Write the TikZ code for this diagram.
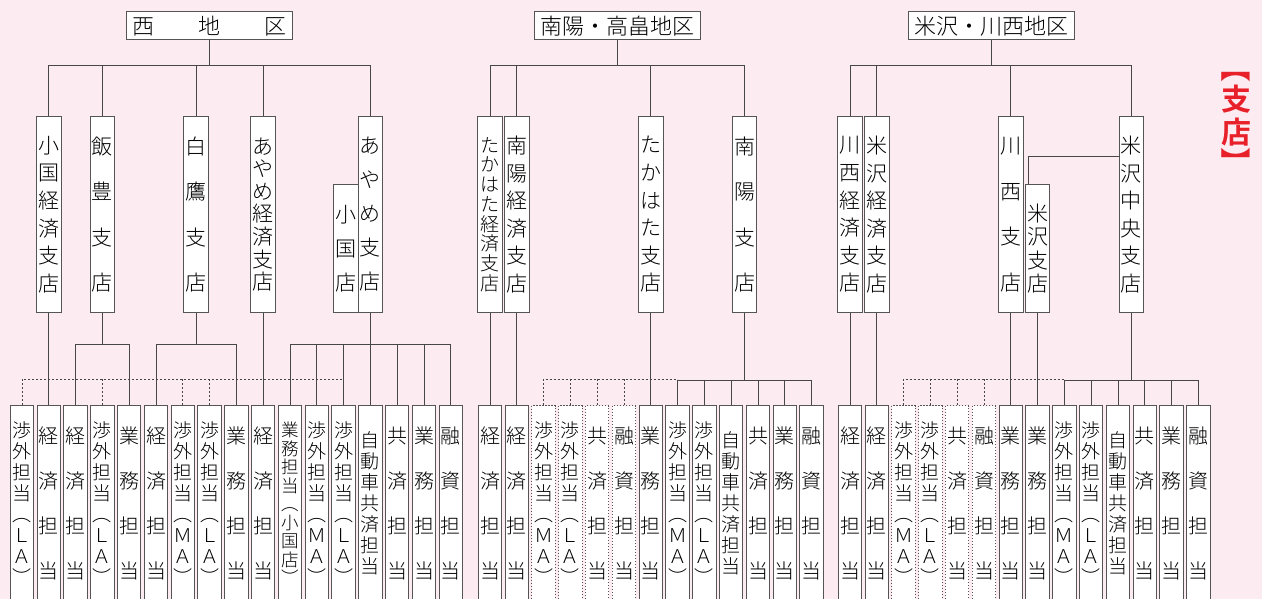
\documentclass[tikz,border=0pt]{standalone}
\usepackage{fontspec}
\setmainfont{Noto Sans CJK JP}[UprightFont=* Light,BoldFont=* Bold]
\definecolor{bgpink}{HTML}{FCEBF1}
\definecolor{ln}{HTML}{474747}
\definecolor{bx}{HTML}{555555}
\definecolor{redc}{HTML}{E8202A}
\newcommand\tKei{経\\済\\担\\当}
\newcommand\tGyo{業\\務\\担\\当}
\newcommand\tKyo{共\\済\\担\\当}
\newcommand\tYu{融\\資\\担\\当}
\newcommand\tLA{渉\\外\\担\\当\\︵\\Ｌ\\Ａ\\︶}
\newcommand\tMA{渉\\外\\担\\当\\︵\\Ｍ\\Ａ\\︶}
\newcommand\tJido{自\\動\\車\\共\\済\\担\\当}
\newcommand\tGyoO{業\\務\\担\\当\\︵\\小\\国\\店\\︶}
\begin{document}
\begin{tikzpicture}[x=1pt,y=-1pt,
  bxs/.style={draw=bx,fill=white,line width=1pt,inner sep=0pt,align=center},
  title/.style={bxs,minimum width=166,minimum height=28,font=\fontsize{22}{22}\selectfont},
  br/.style={bxs,minimum width=24.5,minimum height=196,anchor=north},
  sbr/.style={bxs,minimum width=24.5,minimum height=128,anchor=north},
  st/.style={bxs,minimum width=23.5,minimum height=196,anchor=north},
  dst/.style={st,dash pattern=on 1.5pt off 1.5pt},
  fA/.style={font=\fontsize{21}{45.5}\selectfont},
  fB/.style={font=\fontsize{21}{27.6}\selectfont},
  fC/.style={font=\fontsize{21}{22.6}\selectfont},
  fD/.style={font=\fontsize{21}{34}\selectfont},
  fE/.style={font=\fontsize{19}{19.7}\selectfont},
  fF/.style={font=\fontsize{21}{23.3}\selectfont},
  sp/.style={font=\fontsize{20}{45}\selectfont},
  tt/.style={font=\fontsize{19}{21}\selectfont},
  t9/.style={font=\fontsize{17.5}{18.5}\selectfont},
  lbl/.style={font=\bfseries\fontsize{30}{30}\selectfont,text=redc,inner sep=0pt},
  conn/.style={draw=ln,line width=1pt},
  dconn/.style={draw=ln,line width=0.9pt,dash pattern=on 2pt off 2pt}]
\fill[bgpink] (0,0) rectangle (1262,599);
\useasboundingbox (0,0) rectangle (1262,599);
\clip (0,0) rectangle (1262,599);

% titles
\node[title] (W) at (209,26) {西　　地　　区};
\node[title] (M) at (617,26) {南陽・高畠地区};
\node[title] (R) at (991.5,26) {米沢・川西地区};

% west branches
\node[br,fB] (w1) at (48.8,116) {小\\国\\経\\済\\支\\店};
\node[br,fA] (w2) at (102.4,116) {飯\\豊\\支\\店};
\node[br,fA] (w3) at (196.2,116) {白\\鷹\\支\\店};
\node[br,fC] (w4) at (263.2,116) {あ\\や\\め\\経\\済\\支\\店};
\node[br,fD] (w5) at (370.4,116) {あ\\や\\め\\支\\店};
\node[sbr,fD] (w6) at (345.9,184) {小\\国\\店};
% middle branches
\node[br,fE] (m1) at (490,116) {た\\か\\は\\た\\経\\済\\支\\店};
\node[br,fB] (m2) at (516.8,116) {南\\陽\\経\\済\\支\\店};
\node[br,fB] (m3) at (650.8,116) {た\\か\\は\\た\\支\\店};
\node[br,fA] (m4) at (744.6,116) {南\\陽\\支\\店};
% right branches
\node[br,fB] (r1) at (850,116) {川\\西\\経\\済\\支\\店};
\node[br,fB] (r2) at (876.8,116) {米\\沢\\経\\済\\支\\店};
\node[br,fA] (r3) at (1010.8,116) {川\\西\\支\\店};
\node[sbr,fF] (r4) at (1037.6,184) {米\\沢\\支\\店};
\node[br,fB] (r5) at (1131.4,116) {米\\沢\\中\\央\\支\\店};

% west staff
\node[st,tt] (ws0) at (22,405) {\tLA};
\node[st,sp] (ws1) at (48.8,405) {\tKei};
\node[st,sp] (ws2) at (75.6,405) {\tKei};
\node[st,tt] (ws3) at (102.4,405) {\tLA};
\node[st,sp] (ws4) at (129.2,405) {\tGyo};
\node[st,sp] (ws5) at (156,405) {\tKei};
\node[st,tt] (ws6) at (182.8,405) {\tMA};
\node[st,tt] (ws7) at (209.6,405) {\tLA};
\node[st,sp] (ws8) at (236.4,405) {\tGyo};
\node[st,sp] (ws9) at (263.2,405) {\tKei};
\node[st,t9] (ws10) at (290,405) {\tGyoO};
\node[st,tt] (ws11) at (316.8,405) {\tMA};
\node[st,tt] (ws12) at (343.6,405) {\tLA};
\node[st,tt] (ws13) at (370.4,405) {\tJido};
\node[st,sp] (ws14) at (397.2,405) {\tKyo};
\node[st,sp] (ws15) at (424,405) {\tGyo};
\node[st,sp] (ws16) at (450.8,405) {\tYu};
% middle staff
\node[st,sp] (ms0) at (490,405) {\tKei};
\node[st,sp] (ms1) at (516.8,405) {\tKei};
\node[dst,tt] (ms2) at (543.6,405) {\tMA};
\node[dst,tt] (ms3) at (570.4,405) {\tLA};
\node[dst,sp] (ms4) at (597.2,405) {\tKyo};
\node[dst,sp] (ms5) at (624,405) {\tYu};
\node[st,sp] (ms6) at (650.8,405) {\tGyo};
\node[st,tt] (ms7) at (677.6,405) {\tMA};
\node[st,tt] (ms8) at (704.4,405) {\tLA};
\node[st,tt] (ms9) at (731.2,405) {\tJido};
\node[st,sp] (ms10) at (758,405) {\tKyo};
\node[st,sp] (ms11) at (784.8,405) {\tGyo};
\node[st,sp] (ms12) at (811.6,405) {\tYu};
% right staff
\node[st,sp] (rs0) at (850,405) {\tKei};
\node[st,sp] (rs1) at (876.8,405) {\tKei};
\node[dst,tt] (rs2) at (903.6,405) {\tMA};
\node[dst,tt] (rs3) at (930.4,405) {\tLA};
\node[dst,sp] (rs4) at (957.2,405) {\tKyo};
\node[dst,sp] (rs5) at (984,405) {\tYu};
\node[st,sp] (rs6) at (1010.8,405) {\tGyo};
\node[st,sp] (rs7) at (1037.6,405) {\tGyo};
\node[st,tt] (rs8) at (1064.4,405) {\tMA};
\node[st,tt] (rs9) at (1091.2,405) {\tLA};
\node[st,tt] (rs10) at (1118,405) {\tJido};
\node[st,sp] (rs11) at (1144.8,405) {\tKyo};
\node[st,sp] (rs12) at (1171.6,405) {\tGyo};
\node[st,sp] (rs13) at (1198.4,405) {\tYu};

% label 【支店】 set vertically
\node[lbl,rotate=-90] (lb1) at (1236,68) {【};
\node[lbl] (lb2) at (1236,99) {支};
\node[lbl] (lb3) at (1236,132) {店};
\node[lbl,rotate=-90] (lb4) at (1236,163) {】};

% district connectors
\draw[conn] (W.south) -- ++(0,25) coordinate (wj);
\foreach \n in {w1,w2,w3,w4,w5} \draw[conn] (wj) -| (\n.north);
\draw[conn] (M.south) -- ++(0,25) coordinate (mj);
\foreach \n in {m1,m2,m3,m4} \draw[conn] (mj) -| (\n.north);
\draw[conn] (R.south) -- ++(0,25) coordinate (rj);
\foreach \n in {r1,r2,r3,r5} \draw[conn] (rj) -| (\n.north);
\draw[conn] (r5.west |- 0,157) -| ([xshift=4pt]r4.north west);

% west staff connectors
\draw[conn] (w1.south) -- (ws1.north);
\draw[conn] (w2.south) -- ++(0,31) coordinate (w2j);
\foreach \n in {ws2,ws4} \draw[conn] (w2j) -| (\n.north);
\draw[conn] (w3.south) -- ++(0,31) coordinate (w3j);
\foreach \n in {ws5,ws8} \draw[conn] (w3j) -| (\n.north);
\draw[conn] (w4.south) -- (ws9.north);
\draw[conn] (w5.south) -- ++(0,31) coordinate (w5j);
\foreach \n in {ws10,ws11,ws12,ws13,ws14,ws15,ws16} \draw[conn] (w5j) -| (\n.north);
\draw[dconn] (ws0.north) -- ++(0,-26) coordinate (wd) -- (wd -| ws12.north);
\foreach \n in {ws3,ws6,ws7} \draw[dconn] (\n.north) -- (\n.north |- wd);

% middle staff connectors
\draw[conn] (m1.south) -- (ms0.north);
\draw[conn] (m2.south) -- (ms1.north);
\draw[conn] (m3.south) -- (ms6.north);
\draw[conn] (m4.south) -- ++(0,67) coordinate (m4j);
\foreach \n in {ms7,ms8,ms9,ms10,ms11,ms12} \draw[conn] (m4j) -| (\n.north);
\draw[dconn] (ms2.north) -- ++(0,-26) coordinate (md) -- (md -| ms7.north);
\foreach \n in {ms3,ms4,ms5} \draw[dconn] (\n.north) -- (\n.north |- md);

% right staff connectors
\draw[conn] (r1.south) -- (rs0.north);
\draw[conn] (r2.south) -- (rs1.north);
\draw[conn] (r3.south) -- (rs6.north);
\draw[conn] (r4.south) -- (rs7.north);
\draw[conn] (r5.south) -- ++(0,67) coordinate (r5j);
\foreach \n in {rs8,rs9,rs10,rs11,rs12,rs13} \draw[conn] (r5j) -| (\n.north);
\draw[dconn] (rs2.north) -- ++(0,-26) coordinate (rd) -- (rd -| rs8.north);
\foreach \n in {rs3,rs4,rs5} \draw[dconn] (\n.north) -- (\n.north |- rd);
\end{tikzpicture}
\end{document}
